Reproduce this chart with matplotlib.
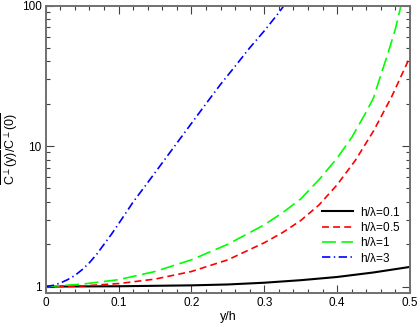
import matplotlib
matplotlib.use('Agg')
from matplotlib import pyplot as plt
from matplotlib.ticker import FixedLocator, FixedFormatter, MultipleLocator, LogLocator, NullFormatter

plt.rcParams['font.family'] = ['Liberation Sans', 'DejaVu Sans']
plt.rcParams['mathtext.fontset'] = 'custom'
plt.rcParams['mathtext.rm'] = 'Liberation Sans'
plt.rcParams['mathtext.it'] = 'Liberation Sans'
plt.rcParams['mathtext.default'] = 'regular'
plt.rcParams['lines.scale_dashes'] = False

# Data (y/h vs normalized correlation)
x_01 = [0, 0.1, 0.2, 0.25, 0.3, 0.35, 0.4, 0.45, 0.5]
c_01 = [1.0, 1.005, 1.02, 1.035, 1.065, 1.11, 1.17, 1.26, 1.38]

x_05 = [0, 0.05, 0.1, 0.15, 0.2, 0.25, 0.3, 0.325, 0.35, 0.375, 0.4, 0.425, 0.45, 0.475, 0.5]
c_05 = [1.0, 1.01, 1.05, 1.13, 1.28, 1.55, 2.05, 2.42, 2.95, 3.8, 5.3, 7.9, 12.8, 22.5, 43]

x_1 = [0, 0.05, 0.1, 0.15, 0.2, 0.25, 0.3, 0.325, 0.35, 0.375, 0.4, 0.42, 0.44, 0.45,
       0.46, 0.47, 0.48, 0.49]
c_1 = [1.0, 1.04, 1.12, 1.28, 1.55, 2.0, 2.75, 3.35, 4.2, 5.75, 8.2, 11.5, 17.5, 22,
       32, 46, 68, 112]

x_3 = [0, 0.01, 0.02, 0.03, 0.04, 0.05, 0.06, 0.07, 0.08, 0.09, 0.1, 0.12, 0.14, 0.16,
       0.18, 0.2, 0.22, 0.24, 0.26, 0.28, 0.3, 0.32, 0.33]
c_3 = [1.0, 1.02, 1.06, 1.12, 1.2, 1.32, 1.48, 1.7, 2.0, 2.35, 2.8, 4.0, 5.5, 7.6,
       10.5, 14.5, 20, 27.5, 37, 50, 66, 89, 105]

x_ticks = [0, 0.1, 0.2, 0.3, 0.4, 0.5]
x_ticklabels = ['0', '0.1', '0.2', '0.3', '0.4', '0.5']
y_ticks = [1, 10, 100]
y_ticklabels = ['1', '10', '100']

fig = plt.figure(figsize=(4.2, 3.27), dpi=100)
ax = fig.add_axes([0.109, 0.104, 0.867, 0.879])

ax.plot(x_01, c_01, color='black', lw=1.5, label=r'h/$\lambda$=0.1')
ax.plot(x_05, c_05, color='#ff0000', lw=1.2, dashes=(5, 3), label=r'h/$\lambda$=0.5')
ax.plot(x_1, c_1, color='#00ff00', lw=1.2, dashes=(10, 4), label=r'h/$\lambda$=1')
ax.plot(x_3, c_3, color='#0000ff', lw=1.2, dashes=(6, 2.5, 1, 2.5), label=r'h/$\lambda$=3')

ax.set_yscale('log')
ax.set_xlim(0, 0.5)
ax.set_ylim(0.9, 100)

ax.xaxis.set_major_locator(FixedLocator(x_ticks))
ax.xaxis.set_major_formatter(FixedFormatter(x_ticklabels))
ax.xaxis.set_minor_locator(MultipleLocator(0.02))
ax.yaxis.set_major_locator(FixedLocator(y_ticks))
ax.yaxis.set_major_formatter(FixedFormatter(y_ticklabels))
ax.yaxis.set_minor_locator(LogLocator(base=10, subs=range(2, 10)))
ax.yaxis.set_minor_formatter(NullFormatter())

ax.tick_params(which='both', direction='in', top=True, right=True, color='#404040', labelsize=8.5, width=0.8)
ax.tick_params(which='major', length=5.5, pad=3)
ax.tick_params(which='minor', length=3)
for sp in ax.spines.values():
    sp.set_color('#707070')
    sp.set_linewidth(1.4)

ax.set_xlabel('y/h', fontsize=9, labelpad=1)
ax.set_ylabel(r'$\overline{C^{\perp}(y)}/\overline{C^{\perp}(0)}$', fontsize=9, labelpad=1)

ax.legend(loc='lower right', bbox_to_anchor=(0.996, 0.07), frameon=False, fontsize=8.5,
          handlelength=2.6, handletextpad=0.6, labelspacing=0.2, borderpad=0.2)

fig.savefig('out.png', dpi=100)
